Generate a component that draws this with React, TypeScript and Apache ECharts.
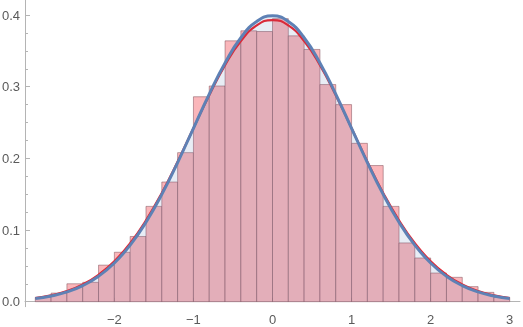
import React, { useEffect, useRef } from "react";
import * as echarts from "echarts";

// Histogram bin edges (31) and bin heights (30, density)
const binEdges = [
  -3, -2.8, -2.6, -2.4, -2.2, -2, -1.8, -1.6, -1.4, -1.2, -1, -0.8, -0.6, -0.4, -0.2, 0,
  0.2, 0.4, 0.6, 0.8, 1, 1.2, 1.4, 1.6, 1.8, 2, 2.2, 2.4, 2.6, 2.8, 3,
];
const binHeights = [
  0.006, 0.012, 0.025, 0.027, 0.051, 0.069, 0.091, 0.133, 0.167, 0.208,
  0.286, 0.301, 0.364, 0.378, 0.377, 0.395, 0.371, 0.352, 0.303, 0.275,
  0.221, 0.19, 0.133, 0.082, 0.061, 0.04, 0.034, 0.021, 0.013, 0.006,
];

// Curves sampled along x
const curveX = [
  -3, -2.8, -2.6, -2.4, -2.2, -2, -1.8, -1.6, -1.4, -1.2, -1, -0.8, -0.6, -0.4, -0.2, 0,
  0.2, 0.4, 0.6, 0.8, 1, 1.2, 1.4, 1.6, 1.8, 2, 2.2, 2.4, 2.6, 2.8, 3,
];
const bluePdf = [
  0.0044, 0.0079, 0.0136, 0.0224, 0.0355, 0.054, 0.079, 0.1109, 0.1497, 0.1942, 0.242,
  0.2897, 0.3332, 0.3683, 0.391, 0.3989, 0.391, 0.3683, 0.3332, 0.2897, 0.242, 0.1942,
  0.1497, 0.1109, 0.079, 0.054, 0.0355, 0.0224, 0.0136, 0.0079, 0.0044,
];
const redPdf = [
  0.005, 0.0088, 0.0148, 0.024, 0.0375, 0.0564, 0.0816, 0.1135, 0.1518, 0.1954, 0.2419,
  0.2881, 0.33, 0.3636, 0.3855, 0.393, 0.3855, 0.3636, 0.33, 0.2881, 0.2419, 0.1954,
  0.1518, 0.1135, 0.0816, 0.0564, 0.0375, 0.024, 0.0148, 0.0088, 0.005,
];

const xTicks = [-2, -1, 0, 1, 2, 3];
const yTicks = [0, 0.1, 0.2, 0.3, 0.4];
const yMinorTicks = [
  0.025, 0.05, 0.075, 0.125, 0.15, 0.175, 0.225, 0.25, 0.275, 0.325, 0.35, 0.375, 0.425,
];

const FONT = "Liberation Sans";
const AXIS_COLOR = "#b4b4b4";
const LABEL_COLOR = "#5a5a5a";

export default function App() {
  const ref = useRef<HTMLDivElement>(null);
  useEffect(() => {
    if (!ref.current) return;
    const chart = echarts.init(ref.current, undefined, { renderer: "svg" });
    const histData = binHeights.map((h, i) => [binEdges[i], binEdges[i + 1], h]);
    chart.setOption({
      animation: false,
      grid: { left: 25, right: 3, top: 0, bottom: 20.3, outerBoundsMode: "none" },
      xAxis: {
        type: "value",
        min: -3.13,
        max: 3.13,
        axisLine: { show: true, onZero: true, lineStyle: { color: AXIS_COLOR, width: 1 } },
        axisTick: {
          show: true,
          inside: true,
          length: 4,
          customValues: xTicks,
          lineStyle: { color: AXIS_COLOR },
        },
        axisLabel: {
          customValues: xTicks,
          margin: 6,
          color: LABEL_COLOR,
          fontFamily: FONT,
          fontSize: 13,
          formatter: (v: number) => (v < 0 ? "\u2212" + Math.abs(v) : String(v)),
        },
        splitLine: { show: false },
      },
      yAxis: [
        {
          type: "value",
          min: -0.007,
          max: 0.421,
          axisLine: { show: true, onZero: false, lineStyle: { color: AXIS_COLOR, width: 1 } },
          axisTick: {
            show: true,
            inside: true,
            length: 5,
            customValues: yTicks,
            lineStyle: { color: AXIS_COLOR },
          },
          axisLabel: {
            customValues: yTicks,
            margin: 5,
            color: LABEL_COLOR,
            fontFamily: FONT,
            fontSize: 13,
            formatter: (v: number) => v.toFixed(1),
          },
          splitLine: { show: false },
        },
        {
          type: "value",
          min: -0.007,
          max: 0.421,
          position: "left",
          axisLine: { show: false, onZero: false },
          axisTick: {
            show: true,
            inside: true,
            length: 3,
            customValues: yMinorTicks,
            lineStyle: { color: AXIS_COLOR },
          },
          axisLabel: { show: false },
          splitLine: { show: false },
        },
      ],
      series: [
        {
          type: "custom",
          z: 1,
          data: histData,
          encode: { x: [0, 1], y: 2 },
          renderItem: (params: any, api: any) => {
            const x0 = api.value(0);
            const x1 = api.value(1);
            const h = api.value(2);
            const p0 = api.coord([x0, h]);
            const p1 = api.coord([x1, 0]);
            return {
              type: "rect",
              shape: { x: p0[0], y: p0[1], width: p1[0] - p0[0], height: p1[1] - p0[1] },
              style: {
                fill: "rgb(250,182,186)",
                stroke: "rgba(110,60,70,0.45)",
                lineWidth: 1,
              },
            };
          },
        },
        {
          type: "line",
          z: 2,
          data: curveX.map((x, i) => [x, redPdf[i]]),
          smooth: true,
          showSymbol: false,
          lineStyle: { color: "#ee1c25", width: 2.2 },
        },
        {
          type: "line",
          z: 3,
          data: curveX.map((x, i) => [x, bluePdf[i]]),
          smooth: true,
          showSymbol: false,
          lineStyle: { color: "#5e81b5", width: 3 },
          areaStyle: { color: "rgba(94,129,181,0.2)" },
        },
      ],
    });
    return () => chart.dispose();
  }, []);
  return (
    <div
      ref={ref}
      style={{ position: "fixed", left: 0, top: 0, width: 523, height: 327 }}
    />
  );
}
